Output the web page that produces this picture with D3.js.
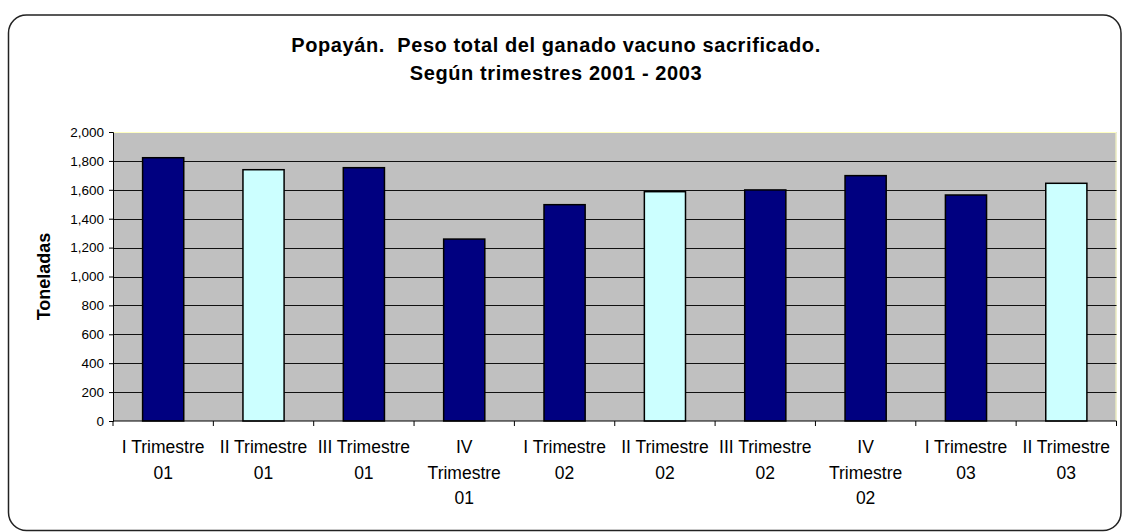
<!DOCTYPE html>
<html>
<head>
<meta charset="utf-8">
<script src="https://cdn.jsdelivr.net/npm/d3@7"></script>
<style>
  body { margin: 0; background: #fff; }
  text { font-family: "Liberation Sans", Arial, sans-serif; }
</style>
</head>
<body>
<svg id="chart" width="1125" height="532"></svg>
<script>
// quarters and years
const quarters = ["I", "II", "III", "IV", "I", "II", "III", "IV", "I", "II"];
const years = ["01", "01", "01", "01", "02", "02", "02", "02", "03", "03"];
// toneladas
const values = [1822, 1739, 1753, 1259, 1497, 1587, 1599, 1698, 1564, 1645];
const yTicks = [0, 200, 400, 600, 800, 1000, 1200, 1400, 1600, 1800, 2000];
const titleLines = ["Popayán.  Peso total del ganado vacuno sacrificado.", "Según trimestres 2001 - 2003"];
const yLabel = "Toneladas";

const categories = quarters.map((q, i) => q + " Trimestre " + years[i]);
const data = categories.map((c, i) => ({cat: c, q: quarters[i], yr: years[i], value: values[i]}));

const margin = {top: 132, right: 8.5, bottom: 111, left: 113},
      width = 1125 - margin.left - margin.right,
      height = 532 - margin.top - margin.bottom;

const svg = d3.select("#chart");

// outer rounded frame
svg.append("rect")
   .attr("x", 8.5).attr("y", 15)
   .attr("width", 1112.5).attr("height", 515.5)
   .attr("rx", 18).attr("ry", 18)
   .attr("fill", "#fff")
   .attr("stroke", "#222")
   .attr("stroke-width", 1.5);

// title
svg.append("text")
   .attr("x", 556).attr("y", 52)
   .attr("text-anchor", "middle")
   .style("font-size", "20px").style("font-weight", "bold")
   .style("letter-spacing", "0.6px")
   .style("white-space", "pre")
   .selectAll("tspan")
   .data(titleLines)
   .enter().append("tspan")
   .attr("x", 556)
   .attr("dy", (d, i) => i === 0 ? 0 : 28)
   .text(d => d);

const x = d3.scaleBand()
            .domain(categories)
            .range([0, width])
            .paddingInner(0.59)
            .paddingOuter(0.295);

const y = d3.scaleLinear()
            .domain([0, 2000])
            .range([height, 0]);

const g = svg.append("g")
             .attr("transform", `translate(${margin.left},${margin.top})`);

// plot area
g.append("rect")
 .attr("width", width).attr("height", height)
 .attr("fill", "#c0c0c0");
g.append("path")
 .attr("d", `M0,0.5H${width - 0.5}V${height}`)
 .attr("fill", "none")
 .attr("stroke", "#ffffc0")
 .attr("stroke-width", 1);

// gridlines
g.selectAll(".grid")
 .data(yTicks.filter(t => t > 0 && t < 2000))
 .enter().append("line")
 .attr("class", "grid")
 .attr("x1", 0).attr("x2", width)
 .attr("y1", d => Math.round(y(d)) + 0.5)
 .attr("y2", d => Math.round(y(d)) + 0.5)
 .attr("stroke", "#111")
 .attr("stroke-width", 1);

// bars
g.selectAll(".bar")
 .data(data)
 .enter().append("rect")
 .attr("class", "bar")
 .attr("x", d => x(d.cat))
 .attr("y", d => y(d.value))
 .attr("width", x.bandwidth())
 .attr("height", d => height - y(d.value))
 .attr("fill", d => d.q === "II" ? "#ccffff" : "#000080")
 .attr("stroke", "#000")
 .attr("stroke-width", 1.5);

// y axis
const yAxis = g.append("g")
               .call(d3.axisLeft(y).tickValues(yTicks).tickSize(4).tickPadding(5)
                       .tickFormat(d3.format(",")));
yAxis.select(".domain").attr("stroke", "#000");
yAxis.selectAll("text").style("font-size", "13.5px").attr("fill", "#000");

// x axis with ticks at category boundaries
const xAxis = g.append("g").attr("transform", `translate(0,${height})`);
xAxis.append("line")
     .attr("x1", 0).attr("x2", width)
     .attr("stroke", "#000");
xAxis.selectAll(".xtick")
     .data(d3.range(categories.length + 1))
     .enter().append("line")
     .attr("x1", i => i * width / categories.length)
     .attr("x2", i => i * width / categories.length)
     .attr("y1", 0).attr("y2", 5)
     .attr("stroke", "#000");

// x labels, wrapped like the original
const labelLines = d => d.q === "IV"
      ? [d.q, "Trimestre", d.yr]
      : [d.q + " Trimestre", d.yr];
xAxis.selectAll(".xlabel")
     .data(data)
     .enter().append("text")
     .attr("class", "xlabel")
     .attr("text-anchor", "middle")
     .attr("y", 32)
     .style("font-size", "17.5px")
     .selectAll("tspan")
     .data(d => labelLines(d).map(t => ({t, cx: x(d.cat) + x.bandwidth() / 2})))
     .enter().append("tspan")
     .attr("x", d => d.cx)
     .attr("dy", (d, i) => i === 0 ? 0 : 25.5)
     .text(d => d.t);

// y axis title
svg.append("text")
   .attr("transform", `translate(50,${margin.top + height / 2}) rotate(-90)`)
   .attr("text-anchor", "middle")
   .style("font-size", "18px").style("font-weight", "bold")
   .text(yLabel);
</script>
</body>
</html>
